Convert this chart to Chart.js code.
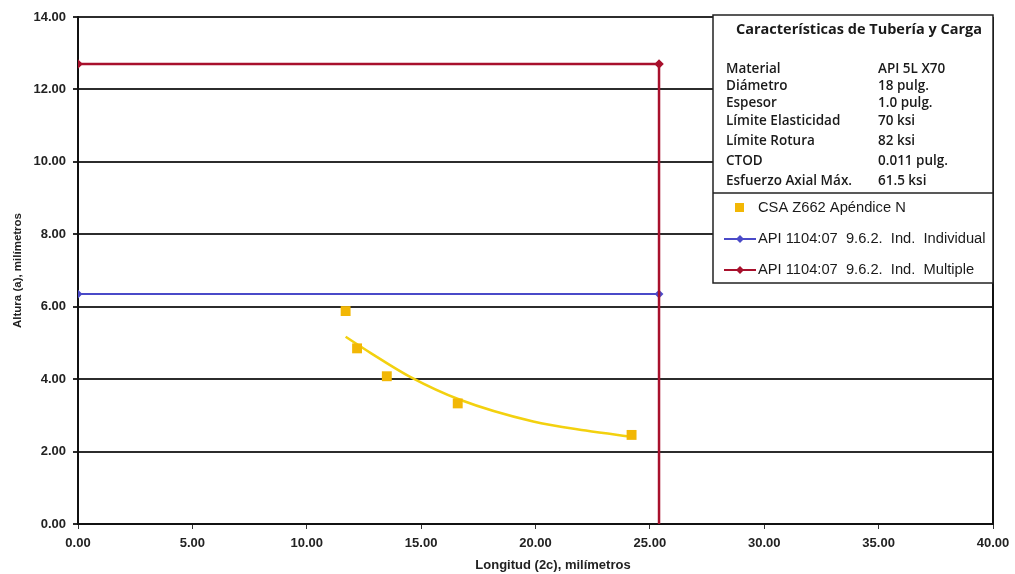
<!DOCTYPE html>
<html>
<head>
<meta charset="utf-8">
<script src="https://cdn.jsdelivr.net/npm/chart.js@4/dist/chart.umd.min.js"></script>
<style>
  html, body { margin:0; padding:0; background:#fff; }
  #wrap { width:1015px; height:574px; position:relative; }
</style>
</head>
<body>
<div id="wrap"><canvas id="chart" width="1015" height="574"></canvas></div>
<script>
// data
const csaX = [11.7, 12.2, 13.5, 16.6, 24.2];
const csaY = [5.88, 4.85, 4.08, 3.33, 2.46];
const trendX = [11.7, 12.8, 14.5, 16.7, 19.9, 22.2, 24.3];
const trendY = [5.17, 4.72, 4.07, 3.43, 2.83, 2.58, 2.40];
const indX = [0, 25.4];
const indY = [6.35, 6.35];
const mulX = [0, 25.4, 25.4];
const mulY = [12.7, 12.7, 0];

const boxTitle = "Características de Tubería y Carga";
const propNames = ["Material", "Diámetro", "Espesor", "Límite Elasticidad", "Límite Rotura", "CTOD", "Esfuerzo Axial Máx."];
const propValues = ["API 5L X70", "18 pulg.", "1.0 pulg.", "70 ksi", "82 ksi", "0.011 pulg.", "61.5 ksi"];
const xTitle = "Longitud (2c), milímetros";

const seriesLabels = ["CSA Z662 Apéndice N", "API 1104:07  9.6.2.  Ind.  Individual", "API 1104:07  9.6.2.  Ind.  Multiple"];
const YELLOW = "#f2b705", TREND = "#f3d10f", BLUE = "#4a4ac8", RED = "#a8102c";

const pts = (xs, ys) => xs.map((x, i) => ({ x, y: ys[i] }));

// legend box, frame and x title drawn on top
const boxPlugin = {
  id: "boxPlugin",
  afterDraw(chart) {
    const { ctx, chartArea: a } = chart;
    ctx.save();
    // right frame
    ctx.strokeStyle = "#111"; ctx.lineWidth = 2;
    ctx.beginPath(); ctx.moveTo(a.right, a.top); ctx.lineTo(a.right, a.bottom); ctx.stroke();

    // x axis title (sits a bit right of centre in the original)
    ctx.fillStyle = "#222";
    ctx.textAlign = "center"; ctx.textBaseline = "middle";
    ctx.font = "bold 13px 'Liberation Sans'";
    ctx.fillText(xTitle, 553, 565);

    const L = 713, T = 15, R = a.right, B = 283, D = 193;
    ctx.fillStyle = "#fff";
    ctx.fillRect(L, T, R - L, B - T);
    ctx.strokeStyle = "#222"; ctx.lineWidth = 1.5;
    ctx.strokeRect(L, T, R - L, B - T);
    ctx.beginPath(); ctx.moveTo(L, D); ctx.lineTo(R, D); ctx.stroke();

    ctx.fillStyle = "#1a1a1a";
    ctx.font = "bold 14.5px 'Open Sans'";
    ctx.fillText(boxTitle, 859, 30);

    ctx.textAlign = "left";
    ctx.font = "600 13.5px 'Open Sans'";
    const rowY = [69, 86, 103, 121, 141, 161, 181];
    propNames.forEach((n, i) => {
      ctx.fillText(n, 726, rowY[i]);
      ctx.fillText(propValues[i], 878, rowY[i]);
    });

    // series legend
    ctx.font = "14.7px 'Liberation Sans'";
    const legY = [208, 239, 270];
    ctx.fillStyle = YELLOW;
    ctx.fillRect(735, legY[0] - 5, 9, 9);
    [[BLUE, legY[1]], [RED, legY[2]]].forEach(([c, y]) => {
      ctx.strokeStyle = c; ctx.lineWidth = 2;
      ctx.beginPath(); ctx.moveTo(724, y); ctx.lineTo(756, y); ctx.stroke();
      ctx.fillStyle = c;
      ctx.beginPath();
      ctx.moveTo(740, y - 4); ctx.lineTo(744, y); ctx.lineTo(740, y + 4); ctx.lineTo(736, y);
      ctx.closePath(); ctx.fill();
    });
    ctx.fillStyle = "#1a1a1a";
    seriesLabels.forEach((t, i) => ctx.fillText(t, 758, legY[i]));
    ctx.restore();
  }
};

new Chart(document.getElementById("chart"), {
  type: "scatter",
  data: {
    datasets: [
      { label: "trend", data: pts(trendX, trendY), showLine: true, borderColor: TREND, borderWidth: 2.5,
        pointRadius: 0, tension: 0.4, cubicInterpolationMode: "monotone", order: 4 },
      { label: seriesLabels[0], data: pts(csaX, csaY), pointStyle: "rect", pointRadius: 7,
        backgroundColor: YELLOW, borderColor: YELLOW, borderWidth: 0, order: 1 },
      { label: seriesLabels[1], data: pts(indX, indY), showLine: true, borderColor: BLUE, backgroundColor: BLUE,
        borderWidth: 2, pointStyle: "rectRot", pointRadius: 3, order: 3 },
      { label: seriesLabels[2], data: pts(mulX, mulY), showLine: true, borderColor: RED, backgroundColor: RED,
        borderWidth: 2.5, pointStyle: "rectRot", pointRadius: [3, 3, 0], order: 2 }
    ]
  },
  options: {
    responsive: false,
    animation: false,
    layout: { padding: { left: 0, top: 17, right: 22, bottom: 0 } },
    plugins: { legend: { display: false }, tooltip: { enabled: false } },
    scales: {
      x: {
        type: "linear", min: 0, max: 40,
        afterFit: s => { s.height = 50; s.paddingLeft = 0; s.paddingRight = 0; },
        ticks: { stepSize: 5, callback: v => v.toFixed(2), padding: 7, maxRotation: 0,
          color: "#222", font: { family: "'Liberation Sans'", size: 13, weight: "bold" } },
        grid: { drawOnChartArea: false, drawTicks: true, tickLength: 5, color: "#333", lineWidth: 1 },
        border: { color: "#111", width: 2 },
        title: { display: false }
      },
      y: {
        type: "linear", min: 0, max: 14,
        afterFit: s => { s.width = 78; },
        ticks: { stepSize: 2, callback: v => v.toFixed(2), padding: 7,
          color: "#222", font: { family: "'Liberation Sans'", size: 13, weight: "bold" } },
        grid: { color: "#2c2c2c", lineWidth: 2, tickLength: 5 },
        border: { color: "#111", width: 2 },
        title: { display: true, text: "Altura (a), milímetros", color: "#222", padding: { top: 11, bottom: 0 },
          font: { family: "'Liberation Sans'", size: 11.5, weight: "bold" } }
      }
    }
  },
  plugins: [boxPlugin]
});
</script>
</body>
</html>
